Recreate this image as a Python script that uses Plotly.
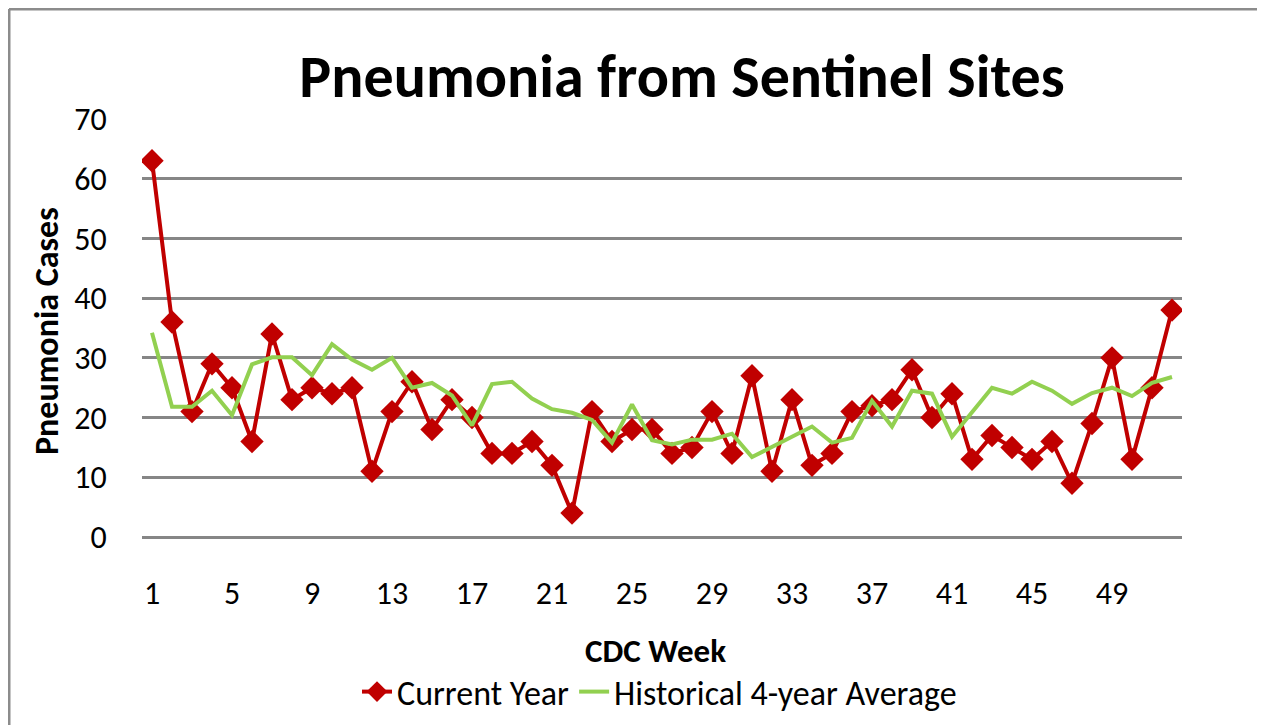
import plotly.graph_objects as go

weeks = list(range(1, 53))
current_year = [63, 36, 21, 29, 25, 16, 34, 23, 25, 24, 25, 11, 21, 26, 18, 23, 20, 14, 14, 16,
                12, 4, 21, 16, 18, 18, 14, 15, 21, 14, 27, 11, 23, 12, 14, 21, 22, 23, 28, 20,
                24, 13, 17, 15, 13, 16, 9, 19, 30, 13, 25, 38]
historical_avg = [34.2, 21.8, 21.8, 24.5, 20.4, 28.9, 30.1, 30.1, 27.1, 32.3, 29.7, 28.0, 30.0, 25.0,
                  25.8, 23.7, 18.7, 25.6, 26.0, 23.2, 21.4, 20.8, 19.6, 15.8, 22.2, 16.2, 15.5, 16.3,
                  16.3, 17.3, 13.4, 15.1, 16.8, 18.5, 15.8, 16.6, 22.8, 18.5, 24.5, 24.0, 16.8, 20.9,
                  25.0, 24.0, 26.0, 24.5, 22.3, 24.1, 25.0, 23.6, 25.8, 26.8]
x_tick_labels = [1, 5, 9, 13, 17, 21, 25, 29, 33, 37, 41, 45, 49]
y_tick_labels = [0, 10, 20, 30, 40, 50, 60, 70]

FONT = "Carlito, 'Liberation Sans Narrow', 'Open Sans', sans-serif"
GRID = "#868686"

# page body has an 8px margin; positions below are given in screen pixels and shifted
OFF = 8
W, H = 1265, 725
L, R, T, B = 142 - OFF, 1182 - OFF, 119 - OFF, 537 - OFF


def px(p):
    return (p - OFF - L) / (R - L)


def py(p):
    return (B - (p - OFF)) / (B - T)


fig = go.Figure()
fig.add_trace(go.Scatter(
    x=weeks, y=current_year, name="Current Year", mode="lines+markers",
    line=dict(color="#C00000", width=4),
    marker=dict(symbol="diamond", size=18, color="#C00000"),
))
fig.add_trace(go.Scatter(
    x=weeks, y=historical_avg, name="Historical 4-year Average", mode="lines",
    line=dict(color="#92D050", width=4),
))

fig.update_layout(
    width=W, height=H,
    margin=dict(l=L, r=W - R, t=T, b=H - B),
    paper_bgcolor="white", plot_bgcolor="white",
    font=dict(family=FONT, color="black", size=32),
    title=dict(text="<b>Pneumonia from Sentinel Sites</b>", x=(682 - OFF) / W, xanchor="center",
               y=1 - (76 - OFF) / H, yanchor="middle", font=dict(size=60, family=FONT)),
    xaxis=dict(range=[0.5, 52.5], tickvals=x_tick_labels, ticktext=[str(v) for v in x_tick_labels],
               showgrid=False, zeroline=False, showline=False,
               ticks="outside", ticklen=28, tickcolor="rgba(0,0,0,0)",
               tickfont=dict(size=32)),
    yaxis=dict(range=[0, 70], tickvals=y_tick_labels, showgrid=True, gridcolor=GRID, gridwidth=2.5,
               zeroline=True, zerolinecolor=GRID, zerolinewidth=2.5, showline=False,
               ticks="outside", ticklen=28, tickcolor="rgba(0,0,0,0)",
               tickfont=dict(size=32)),
    showlegend=True,
    legend=dict(orientation="h", x=px(357), xanchor="left", y=py(692), yanchor="middle",
                font=dict(size=34), bgcolor="rgba(0,0,0,0)", itemwidth=30, tracegroupgap=0),
    annotations=[
        dict(text="<b>CDC Week</b>", x=px(655), y=py(651), xref="paper", yref="paper",
             showarrow=False, xanchor="center", yanchor="middle", font=dict(size=33)),
        dict(text="<b>Pneumonia Cases</b>", x=px(46), y=py(331), xref="paper", yref="paper",
             showarrow=False, xanchor="center", yanchor="middle", textangle=-90,
             font=dict(size=34)),
    ],
    shapes=[
        dict(type="line", xref="paper", yref="paper", x0=px(9), x1=px(9), y0=py(760), y1=py(9),
             line=dict(color="#8c8c8c", width=3)),
        dict(type="line", xref="paper", yref="paper", x0=px(9), x1=px(1300), y0=py(9), y1=py(9),
             line=dict(color="#8c8c8c", width=3)),
    ],
)

fig.write_html("out.html")
